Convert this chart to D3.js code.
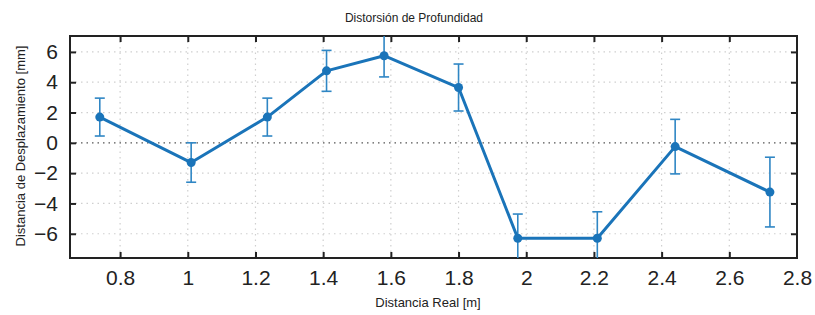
<!DOCTYPE html>
<html>
<head>
<meta charset="utf-8">
<script src="https://cdn.jsdelivr.net/npm/d3@7"></script>
<style>
  body { margin: 0; background: #fff; }
  svg text { font-family: "Liberation Sans", Arial, sans-serif; fill: #222; }
</style>
</head>
<body>
<div id="chart"></div>
<script>
// data
const distReal = [0.74, 1.01, 1.235, 1.41, 1.58, 1.80, 1.975, 2.21, 2.44, 2.72];
const desplazamiento = [1.7, -1.3, 1.7, 4.75, 5.75, 3.65, -6.3, -6.3, -0.25, -3.25];
const errorBar = [1.25, 1.3, 1.25, 1.35, 1.4, 1.55, 1.6, 1.75, 1.8, 2.3];
const xTicks = [0.8, 1, 1.2, 1.4, 1.6, 1.8, 2, 2.2, 2.4, 2.6, 2.8];
const yTicks = [-6, -4, -2, 0, 2, 4, 6];

const width = 815, height = 315;
const margin = {top: 36, right: 18, bottom: 57, left: 70};
const blue = '#1a74b9';

const svg = d3.select('#chart').append('svg')
    .attr('width', width)
    .attr('height', height);

let xScale = d3.scaleLinear()
    .domain([0.652, 2.8])
    .range([margin.left, width - margin.right]);

let yScale = d3.scaleLinear()
    .domain([-7.6, 7.05])
    .range([height - margin.bottom, margin.top]);

let x0 = margin.left, x1 = width - margin.right;
let y0 = margin.top, y1 = height - margin.bottom;

svg.append('defs').append('clipPath').attr('id', 'plotclip')
    .append('rect')
    .attr('x', x0).attr('y', y0)
    .attr('width', x1 - x0).attr('height', y1 - y0);

// dotted grid
let grid = svg.append('g').attr('id', 'grid');
grid.selectAll('.vgrid').data(xTicks.filter(d => d < 2.8)).enter().append('line')
    .attr('class', 'vgrid')
    .attr('x1', d => xScale(d)).attr('x2', d => xScale(d))
    .attr('y1', y0).attr('y2', y1)
    .attr('stroke', '#cfcfcf').attr('stroke-width', 1.2)
    .style('stroke-dasharray', '1.5,4');
grid.selectAll('.hgrid').data(yTicks.filter(d => d !== 0)).enter().append('line')
    .attr('class', 'hgrid')
    .attr('x1', x0).attr('x2', x1)
    .attr('y1', d => yScale(d)).attr('y2', d => yScale(d))
    .attr('stroke', '#cfcfcf').attr('stroke-width', 1.2)
    .style('stroke-dasharray', '1.5,4');
// zero line
grid.append('line')
    .attr('x1', x0).attr('x2', x1)
    .attr('y1', yScale(0)).attr('y2', yScale(0))
    .attr('stroke', '#555').attr('stroke-width', 1.2)
    .style('stroke-dasharray', '1.5,4');

// axes, ticks pointing inward
let tickLen = 6;
let xAxisB = svg.append('g')
    .attr('transform', 'translate(0,' + y1 + ')')
    .call(d3.axisBottom(xScale).tickValues(xTicks).tickSizeInner(-tickLen).tickSizeOuter(0).tickPadding(12).tickFormat(d3.format('')));
let xAxisT = svg.append('g')
    .attr('transform', 'translate(0,' + y0 + ')')
    .call(d3.axisTop(xScale).tickValues(xTicks).tickSizeInner(-tickLen).tickSizeOuter(0));
xAxisT.selectAll('text').remove();
let yAxisL = svg.append('g')
    .attr('transform', 'translate(' + x0 + ',0)')
    .call(d3.axisLeft(yScale).tickValues(yTicks).tickSizeInner(-tickLen).tickSizeOuter(0).tickPadding(12));
let yAxisR = svg.append('g')
    .attr('transform', 'translate(' + x1 + ',0)')
    .call(d3.axisRight(yScale).tickValues(yTicks).tickSizeInner(-tickLen).tickSizeOuter(0));
yAxisR.selectAll('text').remove();

[xAxisB, xAxisT, yAxisL, yAxisR].forEach(ax => {
    ax.select('.domain').remove();
    ax.selectAll('.tick line').attr('stroke', '#222').attr('stroke-width', 2);
    ax.selectAll('text').style('font-size', '21px').attr('fill', '#222')
        .style('font-family', '"Liberation Sans", Arial, sans-serif');
});
xAxisB.selectAll('.tick line').filter(d => d === 2.8).remove();
xAxisT.selectAll('.tick line').filter(d => d === 2.8).remove();

// box
svg.append('rect')
    .attr('x', x0).attr('y', y0)
    .attr('width', x1 - x0).attr('height', y1 - y0)
    .attr('fill', 'none').attr('stroke', '#222').attr('stroke-width', 2);

// data
let rows = distReal.map((d, i) => ({x: d, y: desplazamiento[i], e: errorBar[i]}));
let plot = svg.append('g').attr('clip-path', 'url(#plotclip)');

let bars = plot.selectAll('.err').data(rows).enter().append('g').attr('class', 'err')
    .attr('stroke', '#2f86c4').attr('stroke-width', 1.6);
bars.append('line')
    .attr('x1', d => xScale(d.x)).attr('x2', d => xScale(d.x))
    .attr('y1', d => yScale(d.y - d.e)).attr('y2', d => yScale(d.y + d.e));
bars.append('line')
    .attr('x1', d => xScale(d.x) - 5).attr('x2', d => xScale(d.x) + 5)
    .attr('y1', d => yScale(d.y + d.e)).attr('y2', d => yScale(d.y + d.e));
bars.append('line')
    .attr('x1', d => xScale(d.x) - 5).attr('x2', d => xScale(d.x) + 5)
    .attr('y1', d => yScale(d.y - d.e)).attr('y2', d => yScale(d.y - d.e));

plot.append('path')
    .datum(rows)
    .attr('fill', 'none')
    .attr('stroke', blue)
    .attr('stroke-width', 3)
    .attr('stroke-linejoin', 'round')
    .attr('d', d3.line().x(d => xScale(d.x)).y(d => yScale(d.y)));

plot.selectAll('circle').data(rows).enter().append('circle')
    .attr('cx', d => xScale(d.x))
    .attr('cy', d => yScale(d.y))
    .attr('r', 4.5)
    .attr('fill', blue);

// labels
svg.append('text').text('Distorsión de Profundidad')
    .attr('x', 414).attr('y', 22)
    .style('text-anchor', 'middle').style('font-size', '12px');
svg.append('text').text('Distancia Real [m]')
    .attr('x', 428).attr('y', 307)
    .style('text-anchor', 'middle').style('font-size', '13px');
svg.append('text').text('Distancia de Desplazamiento [mm]')
    .attr('transform', 'translate(25,146) rotate(-90)')
    .style('text-anchor', 'middle').style('font-size', '13px');
</script>
</body>
</html>
